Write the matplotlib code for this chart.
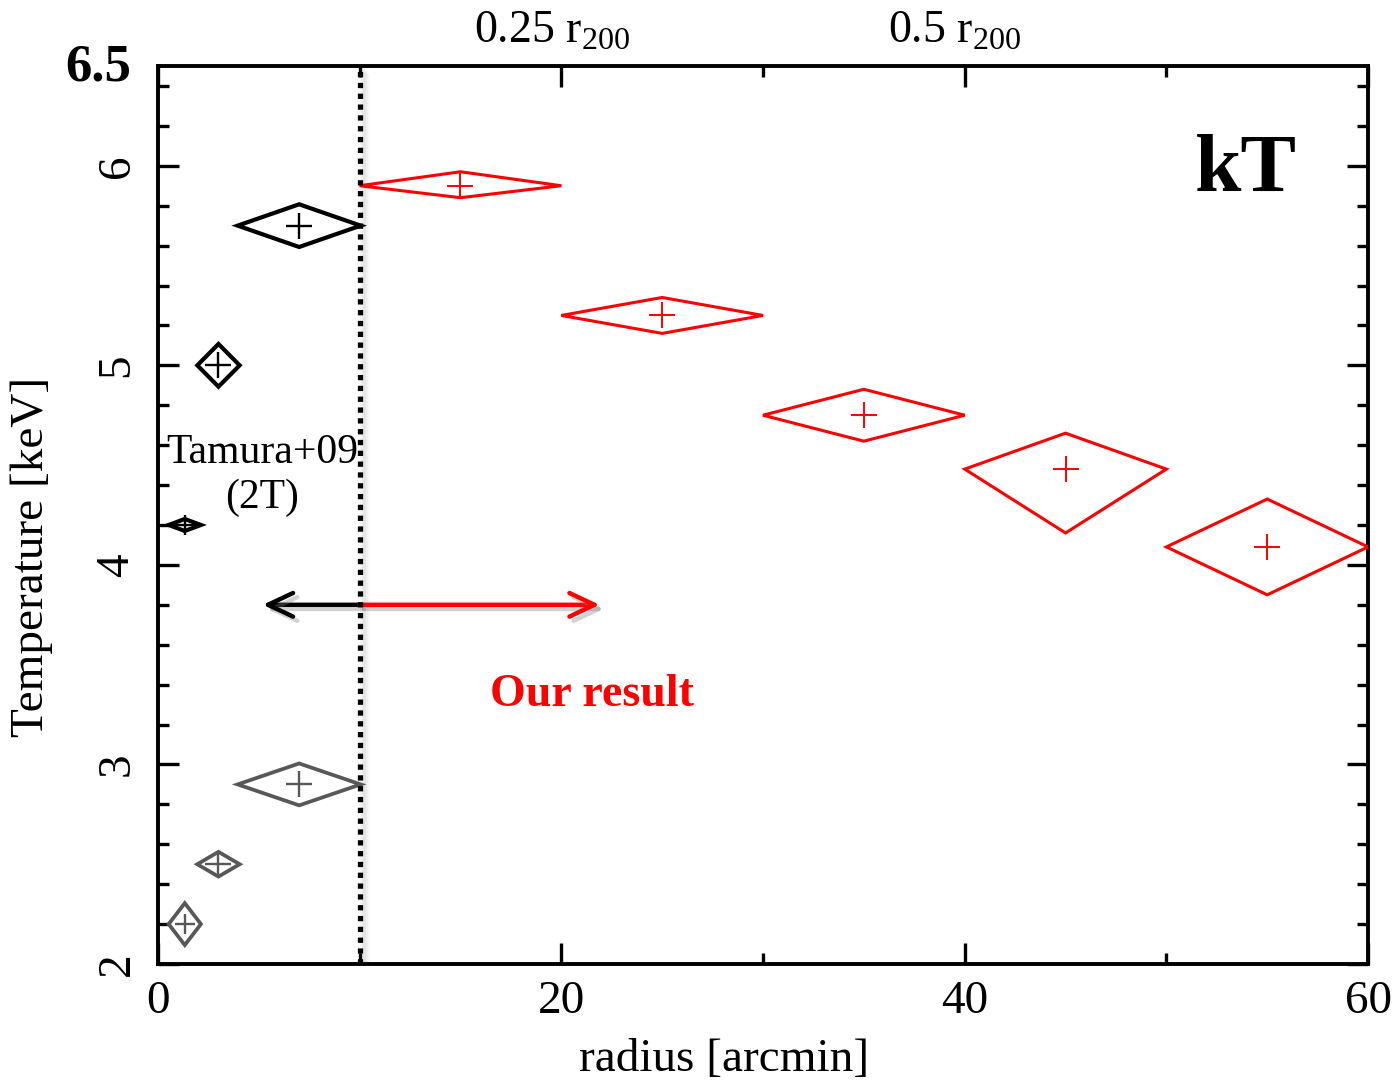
import numpy as np
import matplotlib
matplotlib.use("Agg")
import matplotlib.pyplot as plt
from matplotlib.patches import Polygon
from matplotlib.transforms import ScaledTranslation
import matplotlib.patheffects as pe

plt.rcParams['font.family'] = ['Liberation Serif', 'DejaVu Serif']
plt.rcParams['mathtext.fontset'] = 'custom'
plt.rcParams['mathtext.rm'] = 'Liberation Serif'

# Tamura+09 two-temperature fit: hot and cool components
hot_r = [1.33, 3.0, 7.0]
hot_kt = [4.2, 5.0, 5.7]
hot_rerr = [0.8, 1.05, 3.05]
hot_kt_up = [0.03, 0.107, 0.107]
hot_kt_lo = [0.03, 0.107, 0.107]

cool_r = [1.33, 3.0, 7.0]
cool_kt = [2.2, 2.5, 2.9]
cool_rerr = [0.8, 1.05, 3.05]
cool_kt_up = [0.105, 0.062, 0.105]
cool_kt_lo = [0.105, 0.062, 0.105]

# our annular results
our_r = [15.0, 25.0, 35.0, 45.0, 55.0]
our_kt = [5.90, 5.25, 4.75, 4.48, 4.09]
our_rerr = [5.0, 5.0, 5.0, 5.0, 5.0]
our_kt_up = [0.07, 0.09, 0.13, 0.18, 0.24]
our_kt_lo = [0.06, 0.09, 0.13, 0.32, 0.24]

r_boundary = 10.0
arrow_y = 3.8
arrow_left = 5.2
arrow_right = 21.9

r200_pos = [19.56, 39.5]
r200_labels = ['0.25 r$_{200}$', '0.5 r$_{200}$']

fig = plt.figure(figsize=(13.93, 10.8), dpi=100)
ax = fig.add_axes([0.1134, 0.1074, 0.8687, 0.8315])


def diamonds(xs, ys, xe, yu, yl, color, lw, cross_lw):
    for x, y, dx, du, dl in zip(xs, ys, xe, yu, yl):
        verts = [(x - dx, y), (x, y + du), (x + dx, y), (x, y - dl)]
        ax.add_patch(Polygon(verts, closed=True, fill=False, edgecolor=color,
                             linewidth=lw, joinstyle='miter', zorder=3))
        ms = 19 if dx >= 1 else 15
        ax.plot(x, y, marker='+', ms=ms, mew=cross_lw, color=color, zorder=4)


diamonds(hot_r, hot_kt, hot_rerr, hot_kt_up, hot_kt_lo, 'black', 3.0, 1.7)
diamonds(cool_r, cool_kt, cool_rerr, cool_kt_up, cool_kt_lo, '#585858', 2.7, 1.7)
diamonds(our_r, our_kt, our_rerr, our_kt_up, our_kt_lo, '#ff0000', 2.2, 1.4)

# soft shadow beside the boundary line
for off, a in [(3, 0.10), (5, 0.08), (7, 0.05)]:
    tr = ax.transData + ScaledTranslation(off / 100, -off / 100, fig.dpi_scale_trans)
    ax.plot([r_boundary, r_boundary], [2.0, 6.5], color='gray', lw=4,
            alpha=a, transform=tr, zorder=2, solid_capstyle='butt')
ax.plot([r_boundary, r_boundary], [2.0, 6.5], color='black', lw=3.8,
        linestyle=(0, (1, 1.05)), dash_capstyle='butt', zorder=5)

shadow = [pe.SimpleLineShadow(offset=(3, -3), shadow_color='gray', alpha=0.35),
          pe.Normal()]
arrow_style = '->,head_length=1.8,head_width=0.85'
ax.annotate('', xy=(arrow_left, arrow_y), xytext=(r_boundary, arrow_y),
            arrowprops=dict(arrowstyle=arrow_style, color='black', lw=3.2,
                            shrinkA=0, shrinkB=0, path_effects=shadow))
ax.annotate('', xy=(arrow_right, arrow_y), xytext=(r_boundary, arrow_y),
            arrowprops=dict(arrowstyle=arrow_style, color='#ff0000', lw=3.2,
                            shrinkA=0, shrinkB=0, path_effects=shadow))

ax.text(5.15, 4.45, 'Tamura+09\n(2T)', ha='center', va='center',
        fontsize=30, linespacing=1.2)
ax.text(21.5, 3.35, 'Our result', ha='center', va='center', fontsize=33,
        fontweight='bold', color='#ff0000')
ax.text(53.95, 5.97, 'kT', ha='center', va='center', fontsize=60,
        fontweight='bold')
ax.text(-0.022, 6.49, '6.5', ha='right', va='center', fontsize=38,
        fontweight='bold', transform=ax.get_yaxis_transform())

for x, lab in zip(r200_pos, r200_labels):
    ax.text(x, 1.015, lab, ha='center', va='bottom', fontsize=33,
            transform=ax.get_xaxis_transform())

ax.set_xlim(0, 60)
ax.set_ylim(2, 6.5)
ax.set_xticks([0, 20, 40, 60])
ax.set_xticks([10, 30, 50], minor=True)
ax.set_yticks([2, 3, 4, 5, 6])
ax.set_yticks(np.arange(2.2, 6.5, 0.2), minor=True)
ax.set_yticklabels(['2', '3', '4', '5', '6'], rotation=90, va='center')

ax.tick_params(which='both', direction='in', top=True, right=True, width=2.4,
               labelsize=34)
ax.tick_params(which='major', length=15)
ax.tick_params(which='minor', length=8)
ax.tick_params(axis='x', pad=12)
ax.tick_params(axis='y', pad=14)
for s in ax.spines.values():
    s.set_linewidth(2.8)

ax.set_xlabel('radius [arcmin]', fontsize=34)
ax.xaxis.set_label_coords(0.468, -0.083)
ax.set_ylabel('Temperature [keV]', fontsize=34)
ax.yaxis.set_label_coords(-0.087, 0.453)

fig.savefig('out.png', dpi=100)
